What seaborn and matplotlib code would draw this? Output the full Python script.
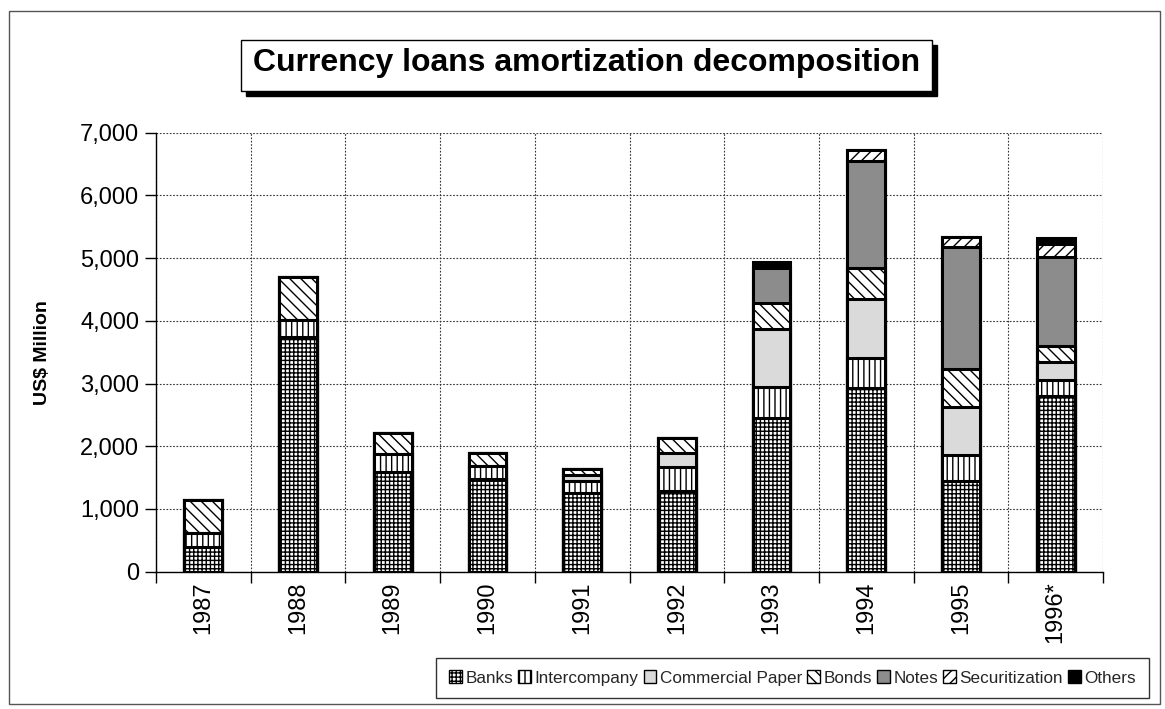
import matplotlib
matplotlib.use("Agg")
import matplotlib.pyplot as plt
import matplotlib.patches as mpatches
from matplotlib.ticker import FuncFormatter, MultipleLocator, FixedLocator
import numpy as np
import pandas as pd
import seaborn as sns

years = ["1987", "1988", "1989", "1990", "1991", "1992", "1993", "1994", "1995", "1996*"]
banks = [400, 3740, 1595, 1475, 1250, 1290, 2450, 2925, 1450, 2800]
intercompany = [210, 270, 280, 210, 195, 375, 500, 480, 410, 255]
commercial_paper = [0, 0, 0, 0, 95, 235, 915, 940, 770, 295]
bonds = [530, 690, 330, 205, 90, 230, 425, 495, 610, 250]
notes = [0, 0, 0, 0, 0, 0, 550, 1715, 1935, 1425]
securitization = [0, 0, 0, 0, 0, 0, 0, 170, 155, 200]
others = [0, 0, 0, 0, 0, 0, 105, 0, 0, 90]

series_names = ["Banks", "Intercompany", "Commercial Paper", "Bonds", "Notes",
                "Securitization", "Others"]
series_values = [banks, intercompany, commercial_paper, bonds, notes,
                 securitization, others]

title = "Currency loans amortization decomposition"
ylabel = "US$ Million"

styles = {
    "Banks": dict(facecolor="#ffffff", hatch="++++"),
    "Intercompany": dict(facecolor="#ffffff", hatch="|||"),
    "Commercial Paper": dict(facecolor="#dadada", hatch=None),
    "Bonds": dict(facecolor="#ffffff", hatch="\\\\\\"),
    "Notes": dict(facecolor="#8c8c8c", hatch=None),
    "Securitization": dict(facecolor="#ffffff", hatch="///"),
    "Others": dict(facecolor="#000000", hatch=None),
}

sns.set_theme(style="white")
plt.rcParams["font.family"] = ["Liberation Sans", "DejaVu Sans"]
plt.rcParams["hatch.linewidth"] = 1.0

W, H = 1165, 709
fig = plt.figure(figsize=(W / 100, H / 100), dpi=100)
fig.patch.set_facecolor("white")

y0_px, y7_px = 571.7, 132.7
xl_px, xr_px = 156, 1103
ax = fig.add_axes([xl_px / W, 1 - y0_px / H, (xr_px - xl_px) / W, (y0_px - y7_px) / H])

df = pd.DataFrame({"Year": years})
cum = np.zeros(len(years))
cums = []
for name, vals in zip(series_names, series_values):
    cum = cum + np.array(vals, dtype=float)
    cums.append(cum.copy())

# cumulative bars drawn from the top series down, so lower segments cover upper ones
for name, c in reversed(list(zip(series_names, cums))):
    df["v"] = c
    st = styles[name]
    sns.barplot(data=df, x="Year", y="v", color=st["facecolor"], saturation=1,
                width=0.4, errorbar=None, edgecolor="black", linewidth=2.2,
                hatch=st["hatch"], ax=ax, zorder=3)

ax.set_xlim(-0.5, 9.5)
ax.set_ylim(0, 7000)
ax.yaxis.set_major_locator(MultipleLocator(1000))
ax.yaxis.set_major_formatter(FuncFormatter(lambda v, p: f"{int(v):,}"))
ax.xaxis.set_minor_locator(FixedLocator(np.arange(-0.5, 10, 1.0)))

ax.grid(False)
ax.grid(True, axis="y", which="major", linestyle=(0, (1.5, 1.5)), color="#333333", linewidth=0.8, zorder=0)
ax.grid(True, axis="x", which="minor", linestyle=(0, (1.5, 1.5)), color="#333333", linewidth=0.8, zorder=0)

for s in ["top", "right"]:
    ax.spines[s].set_visible(False)
for s in ["left", "bottom"]:
    ax.spines[s].set_color("black")
    ax.spines[s].set_linewidth(1.0)
    ax.spines[s].set_zorder(4)

ax.tick_params(axis="y", which="major", direction="out", length=8, width=1, color="black",
               labelsize=17, labelcolor="black", pad=4, left=True)
ax.tick_params(axis="x", which="major", length=0, labelsize=17, labelcolor="black",
               labelrotation=90, pad=7)
ax.tick_params(axis="x", which="minor", direction="out", length=8, width=1, color="black",
               bottom=True)
ax.set_xlabel("")
ax.set_ylabel(ylabel, fontsize=14, fontweight="bold", color="black")
ax.yaxis.set_label_coords((51 - xl_px) / (xr_px - xl_px), 0.5)

# title box with shadow
bx0, by0, bx1, by1 = 241, 40, 932, 91
sh = 5
fig.add_artist(mpatches.Rectangle(((bx0 + sh) / W, 1 - (by1 + sh) / H), (bx1 - bx0) / W,
                                  (by1 - by0) / H, transform=fig.transFigure,
                                  facecolor="black", edgecolor="black", zorder=5))
fig.add_artist(mpatches.Rectangle((bx0 / W, 1 - by1 / H), (bx1 - bx0) / W, (by1 - by0) / H,
                                  transform=fig.transFigure, facecolor="white",
                                  edgecolor="black", linewidth=1.0, zorder=6))
fig.text(((bx0 + bx1) / 2) / W, 1 - 63 / H, title, ha="center", va="center",
         fontsize=23, fontweight="bold", color="black", zorder=7)

# outer chart frame
fig.add_artist(mpatches.Rectangle((9 / W, 1 - 704 / H), (1160 - 9) / W, (704 - 11) / H,
                                  transform=fig.transFigure, facecolor="none",
                                  edgecolor="#555555", linewidth=1.0, zorder=1))

handles = []
for name in series_names:
    st = styles[name]
    handles.append(mpatches.Patch(facecolor=st["facecolor"], hatch=st["hatch"],
                                  edgecolor="black", linewidth=1.0, label=name))

leg_x0, leg_x1, leg_cy = 437, 1148, 678


def make_legend(size):
    lg = fig.legend(handles=handles, labels=series_names, ncol=7, loc="center",
                    bbox_to_anchor=(((leg_x0 + leg_x1) / 2) / W, 1 - leg_cy / H),
                    frameon=True, fancybox=False, prop={"size": size},
                    handlelength=0.75, handleheight=0.75, handletextpad=0.2,
                    columnspacing=0.3, borderpad=0.75, borderaxespad=0)
    lg.get_frame().set_edgecolor("black")
    lg.get_frame().set_linewidth(1.0)
    return lg


size = 14.0
leg = make_legend(size)
renderer = fig.canvas.get_renderer()
for _ in range(3):
    w = leg.get_window_extent(renderer).width
    size = size * (leg_x1 - leg_x0) / w
    leg.remove()
    leg = make_legend(size)

fig.savefig("out.png", dpi=100, facecolor="white")
